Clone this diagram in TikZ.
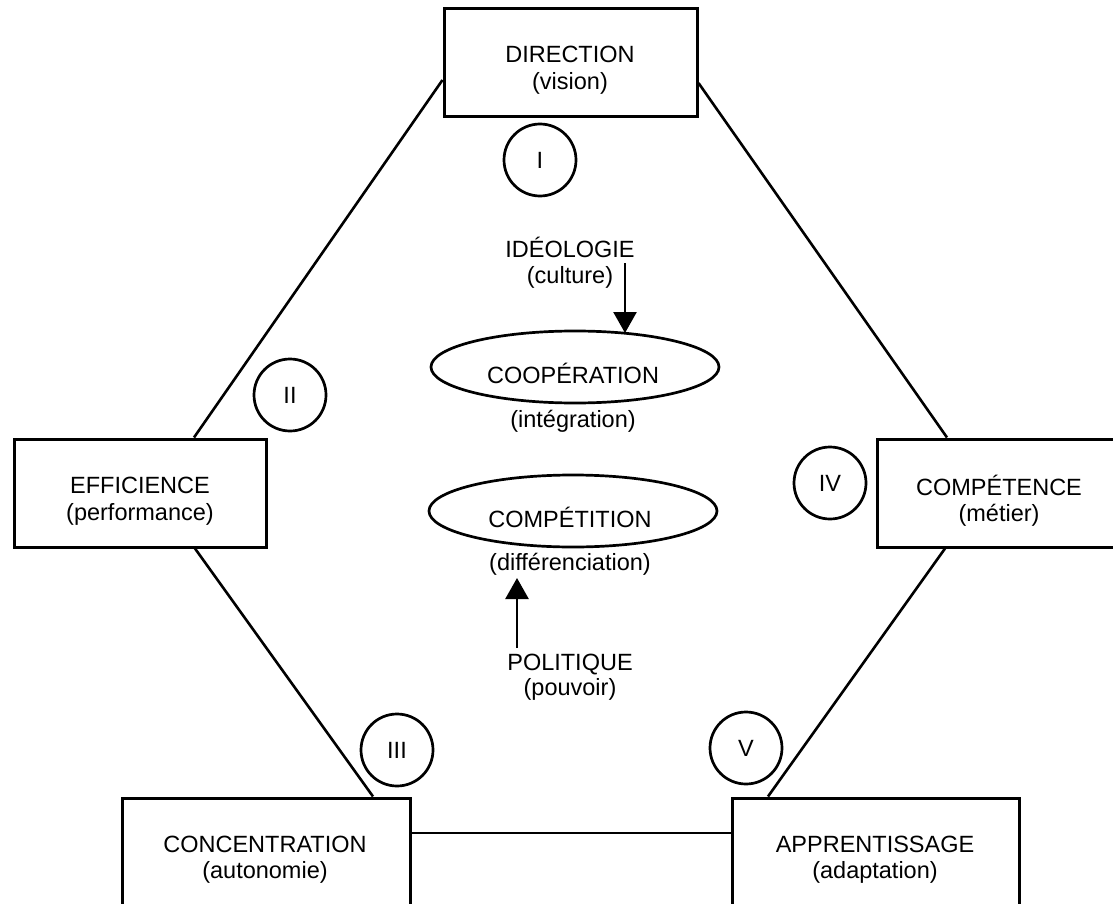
\documentclass[tikz,border=0pt]{standalone}
\usepackage{fontspec}
\setmainfont{Liberation Sans}
\usetikzlibrary{shapes.geometric,arrows.meta}
\tikzset{
  boxnode/.style={draw, line width=3pt, minimum width=253pt, minimum height=108pt, inner sep=0pt},
  txt/.style={anchor=base, inner sep=0pt, font=\fontsize{23.5}{27}\selectfont},
  roman/.style={draw, circle, line width=2.7pt, minimum size=72pt, inner sep=0pt, font=\fontsize{23.5}{27}\selectfont},
  ell/.style={draw, ellipse, line width=2.7pt, minimum width=288pt, minimum height=72pt, inner sep=0pt},
  link/.style={line width=2.6pt},
  arr/.style={line width=2.6pt, -{Triangle[width=23pt,length=21pt]}}
}
\begin{document}
\begin{tikzpicture}[x=1pt,y=-1pt]
\useasboundingbox (0,0) rectangle (1113,904);
\clip (0,0) rectangle (1113,904);
\fill[white] (0,0) rectangle (1113,904);
% boxes
\node[boxnode] (dir) at (570.5,63) {};
\node[boxnode, minimum width=252pt] (eff) at (140,493) {};
\node[boxnode, minimum width=240pt] (compt) at (997,493) {};
\node[boxnode, minimum width=288pt] (conc) at (266,852) {};
\node[boxnode, minimum width=287pt] (appr) at (875.5,852) {};
% box texts
\node[txt] (dirA) at (570,63) {DIRECTION};
\node[txt] (dirB) at (570,90) {(vision)};
\node[txt] (effA) at (140,493) {EFFICIENCE};
\node[txt] (effB) at (140,520) {(performance)};
\node[txt] (comptA) at (999,495) {COMPÉTENCE};
\node[txt] (comptB) at (999,521) {(métier)};
\node[txt] (concA) at (265,852) {CONCENTRATION};
\node[txt] (concB) at (265,878) {(autonomie)};
\node[txt] (apprA) at (875,852) {APPRENTISSAGE};
\node[txt] (apprB) at (875,878) {(adaptation)};
% hexagon connectors
\draw[link] ([yshift=-17pt]dir.west) -- ([xshift=54pt]eff.north);
\draw[link] ([yshift=-20pt]dir.east) -- ([xshift=-50pt]compt.north);
\draw[link] ([xshift=55pt]eff.south) -- ([xshift=107pt]conc.north);
\draw[link] ([xshift=-52pt]compt.south) -- ([xshift=-107.5pt]appr.north);
\draw[link] ([yshift=19pt]conc.east) -- ([yshift=19pt]appr.west);
% roman circles
\node[roman] (c1) at (540,160) {I};
\node[roman] (c2) at (290,395) {II};
\node[roman] (c3) at (397,750) {III};
\node[roman] (c4) at (830,483) {IV};
\node[roman] (c5) at (746,748) {V};
% centre
\node[ell] (coop) at (575,367) {};
\node[ell] (compet) at (573,511) {};
\node[txt] (ideoA) at (570,257) {IDÉOLOGIE};
\node[txt] (ideoB) at (570,283) {(culture)};
\node[txt] (coopA) at (573,383) {COOPÉRATION};
\node[txt] (coopB) at (573,427) {(intégration)};
\node[txt] (competA) at (570,527) {COMPÉTITION};
\node[txt] (competB) at (570,570) {(différenciation)};
\node[txt] (poliA) at (570,670) {POLITIQUE};
\node[txt] (poliB) at (570,695) {(pouvoir)};
\coordinate (ideoTail) at (625,263);
\coordinate (ideoTip) at (625,333);
\coordinate (poliTail) at (517,648);
\coordinate (poliTip) at (517,578);
\draw[arr] (ideoTail) -- (ideoTip);
\draw[arr] (poliTail) -- (poliTip);
\end{tikzpicture}
\end{document}
